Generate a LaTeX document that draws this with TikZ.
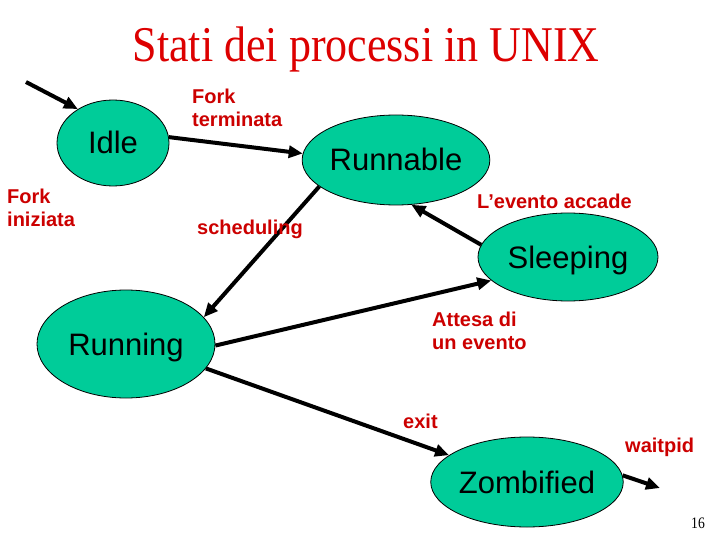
\documentclass[tikz,border=0pt]{standalone}
\usepackage{fontspec}
\usepackage{graphicx}
\setmainfont{Liberation Sans}
\newfontfamily\timesf{Liberation Serif}
\usetikzlibrary{shapes.geometric,arrows.meta}
\definecolor{stategreen}{RGB}{0,204,153}
\definecolor{labred}{RGB}{204,0,0}
\definecolor{titlered}{RGB}{221,0,0}
\begin{document}
\begin{tikzpicture}[x=1pt,y=-1pt,
  state/.style={ellipse,draw=black,line width=0.8pt,fill=stategreen,inner sep=0pt,
    font=\fontsize{31}{36}\selectfont,text height=22pt,text depth=0pt},
  lbl/.style={anchor=base west,inner sep=0pt,text=labred,
    font=\fontsize{20}{23}\selectfont\bfseries,align=left},
  arr/.style={line width=4pt,-{Triangle[length=14pt,width=12pt]}}]
\fill[white] (0,0) rectangle (720,540);
\useasboundingbox (0,0) rectangle (720,540);

\node[anchor=base,inner sep=0pt,text=titlered,font=\timesf\fontsize{50}{60}\selectfont] (title) at (366,62) {\scalebox{0.88}[1]{Stati dei processi in UNIX}};

\node[state,minimum width=112pt,minimum height=86pt] (idle) at (113,143) {Idle};
\node[state,minimum width=180pt,minimum height=90pt] (runnable) at (396,160) {Runnable};
\node[state,minimum width=180pt,minimum height=88pt] (sleeping) at (568,257) {Sleeping};
\node[state,minimum width=178pt,minimum height=108pt] (running) at (126,344) {Running};
\node[state,minimum width=180pt,minimum height=90pt] (zombified) at (527,482) {Zombified};

\coordinate (start) at (26,82);
\coordinate (gone) at (660,488);

\draw[arr] (start) -- (idle.136);
\draw[arr] (idle.6) -- (runnable.176);
\draw[arr] (runnable.199) -- (running.19);
\draw[arr] (sleeping.172) -- (runnable.289);
\draw[arr] (running.359) -- (sleeping.197);
\draw[arr] (running.343) -- (zombified.161);
\draw[arr] (zombified.4) -- (gone);

\node[lbl] (forkterm) at (192,127) {Fork\\terminata};
\node[lbl] (forkiniz) at (7,226) {Fork\\iniziata};
\node[lbl] (sched) at (197,235) {scheduling};
\node[lbl] (evento) at (477,208) {L’evento accade};
\node[lbl] (attesa) at (432,349) {Attesa di\\un evento};
\node[lbl] (exitl) at (403,428) {exit};
\node[lbl] (waitpid) at (625,452) {waitpid};

\node[anchor=base,inner sep=0pt,font=\timesf\fontsize{16}{18}\selectfont] (pagenum) at (698,528) {\scalebox{0.85}[1]{16}};
\end{tikzpicture}
\end{document}
